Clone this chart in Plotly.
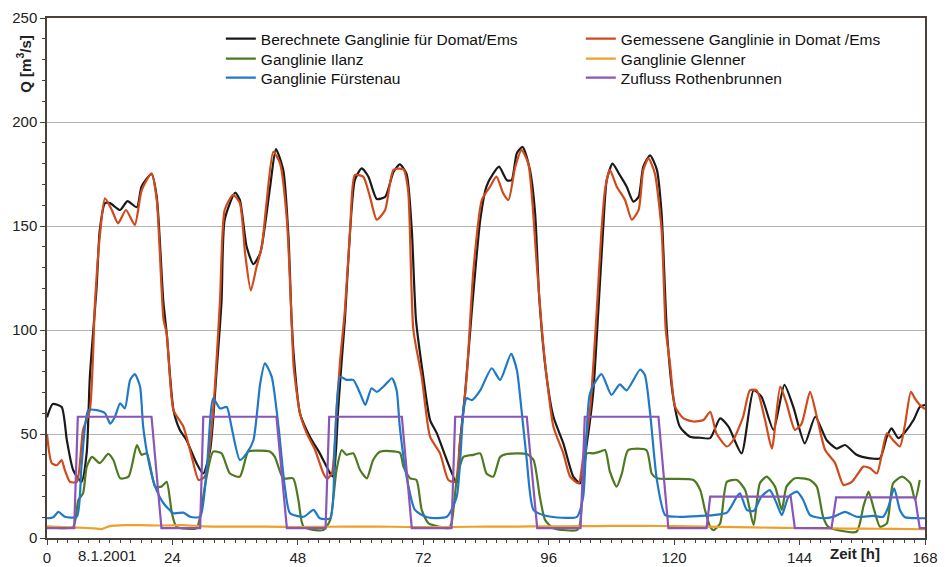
import plotly.graph_objects as go

# ---------------- data (hours, m3/s) ----------------
calc_h = [0, 1.1, 2.8, 3.8, 5, 6.6, 7.6, 8.2, 9.5, 10.1, 11.1, 12.05, 14, 15.4, 17.2, 18.1, 20, 21, 22.25, 22.9,
          24.2, 25.4, 26.7, 28.6, 29.9, 31.2, 32.5, 33.4, 34, 36, 36.9, 38.2, 39.5, 40.8, 42.7, 43.8, 45.2, 46.2,
          46.8, 47.3, 48.4, 50.3, 52.2, 54.2, 54.8, 55.7, 56.4, 57, 58, 58.9, 60.2, 61.5, 63.1, 64.7, 66.3, 67.5,
          68.8, 69.8, 70.6, 72, 73.3, 74.6, 76.5, 78.4, 79, 80, 81.3, 82.9, 84.1, 85.4, 86.5, 88, 88.9, 89.9, 91,
          92.4, 93.4, 94.2, 95.6, 96.9, 98.8, 100.7, 102, 103.3, 104.5, 105.5, 106.4, 107.1, 108.2, 109.6, 110.9,
          112.2, 113.2, 114.1, 115.4, 116.7, 117.6, 118.6, 119.8, 121.1, 123, 125, 126.9, 128.8, 130.4, 132.9,
          135.2, 136.7, 139, 141.1, 142.8, 145, 147, 149.2, 151.1, 152.7, 154.9, 157.5, 159.4, 160.7, 161.6,
          162.9, 164.2, 165.8, 167, 168]
calc_q = [58, 64.4, 63, 47, 32.7, 27, 41, 77.5, 121, 148, 161, 161, 157.7, 162, 159, 169, 175, 164, 114, 98.5,
          61.5, 52, 47, 36, 31, 42, 82, 114, 153, 166, 162.5, 140, 131.7, 137, 169, 187, 177, 145,
          105, 85, 60, 48.7, 40.7, 31, 29.5, 61.5, 85.6, 105, 148, 172, 177.7, 173.7, 163, 164, 176, 179.6,
          175, 148, 105, 77.5, 56.7, 50.3, 37.5, 26.3, 45.5, 69.6, 109.6, 153, 169, 175.3, 178.5, 172, 172, 185, 188,
          177, 156, 115, 77.5, 58.3, 45.5, 29.5, 26.3, 45.5, 69.6, 109.6, 148, 172, 180, 174.5, 169,
          161.7, 164, 178.5, 184, 177, 156, 100, 68, 53.5, 48.7, 48.2, 48, 57.5, 53.5, 40.7,
          71, 68, 52, 73.6, 63, 45.5, 58.3, 47, 43, 44.7, 40, 38.3, 38.3, 48.7, 52.7,
          48, 51, 56.7, 63, 64]

meas_h = [0, 0.9, 1.9, 2.8, 3.4, 4.4, 5.7, 6.9, 8.2, 9.2, 10.1, 11.1, 12.4, 13.6, 15.1, 16.8, 18.1, 20, 21, 22.3,
          22.9, 24.2, 26.1, 27.7, 29, 30.2, 31.8, 33.1, 34, 35.6, 36.9, 37.9, 39, 40.1, 41.1, 42, 43.3, 44.6, 45.9,
          46.8, 47.2, 48.4, 49.7, 51.3, 52.9, 53.6, 54.5, 55.4, 56.1, 57, 58, 58.9, 60.5, 61.8, 63.1, 64.7, 66.3,
          68.2, 69.1, 70.1, 71.7, 73.3, 75.2, 76.8, 78.1, 79, 80.3, 81.6, 83.2, 84.8, 86, 87.3, 88.3, 89.6, 90.8,
          92.1, 93.7, 94.7, 95.6, 96.9, 98.8, 100.1, 101.7, 102.6, 103.9, 105.2, 106.1, 106.8, 107.7, 109, 110.6,
          111.9, 113.2, 114.1, 115.1, 116.3, 117.6, 118.4, 119.2, 120.2, 121.8, 123.7, 125.6, 126.9, 128.1, 130.1,
          131.3, 133.2, 134.5, 135.8, 137.4, 138.7, 140.3, 141.5, 143.1, 144.4, 146, 147.3, 148.9, 150.8, 152.4,
          154, 155.2, 156.2, 157.5, 158.8, 160.7, 161.9, 163.2, 164.2, 165.3, 166.1, 167, 168]
meas_q = [50, 36, 35, 37.5, 32.7, 27, 27, 52, 61.5, 114, 145, 163.3, 157.7, 151.3, 157.7, 150.5, 167, 175.3, 162.5, 105,
          98.4, 61.5, 53.5, 39, 27.9, 29.5, 61.5, 114, 157.7, 165, 161, 137, 119, 130.4, 140, 161, 185.7, 180, 153,
          105, 82.3, 60, 50.3, 42.3, 31, 28.5, 31, 61.5, 85.6, 109.6, 148, 174.5, 173.7, 164, 153, 157.7, 177,
          177.2, 167, 100, 77.5, 48.7, 40.7, 27.9, 27, 45.5, 77.5, 129, 162.5, 169, 173.7, 165.7, 162.5, 178.5, 186.5,
          180, 132, 100, 77.5, 53.5, 40.7, 29.5, 26.3, 39, 61.5, 109.6, 148, 168, 177, 169, 162.5,
          153, 157.7, 177, 182.5, 175.3, 148, 100, 84, 63, 57.5, 56, 56.7, 60.7, 50.3, 44,
          47, 58.3, 71, 71, 56.7, 43, 72.8, 64.8, 52, 55, 70.3, 58.3, 42.3, 36, 25.5,
          27, 31, 34.3, 33.5, 31, 50.3, 47, 44, 55, 70.3, 67, 64, 62]

ilanz_h = [0, 5, 6, 6.9, 7.6, 8.6, 10.1, 11.7, 12.7, 14, 15.6, 17.2, 18.1, 19.1, 20.7, 21.9, 22.9, 23.9, 24.8, 28.6,
           29.3, 30.2, 31.8, 33.4, 35, 36.9, 38.5, 40.1, 42.7, 43.6, 45.2, 47.1, 48.1, 49.1, 52.9, 54.2, 55.4, 56.4,
           57.3, 58.6, 59.9, 61.2, 62.4, 63.7, 67.5, 68.2, 69.5, 70.7, 71.7, 73, 75.2, 76.8, 77.4, 78.4, 79.7, 81.6,
           82.9, 84.1, 85.4, 86.7, 88, 91.8, 93.1, 94.3, 95.3, 96.9, 101.4, 102, 103.3, 104.5, 105.8, 106.8, 107.7,
           109, 110, 111.2, 114.7, 115.7, 116.7, 123.7, 125, 125.9, 126.9, 127.5, 128.8, 130.1, 132, 133.6, 135.2,
           136.4, 137.7, 139.3, 140.6, 141.5, 143.1, 146, 147.3, 148.5, 149.5, 154.9, 156.2, 157.2, 158.1, 159.4,
           160.7, 161.9, 163.6, 165.2, 166.1, 167]
ilanz_q = [5.4, 5.4, 18.3, 21.5, 34.3, 39, 36, 40.4, 37.5, 28.7, 29.5, 44.7, 40, 40.7, 24.7, 24.7, 27, 11.9, 5.4, 4.7,
           10.2, 24.7, 41.5, 40.7, 31, 29.5, 41.5, 42, 41.5, 39, 28.7, 28.7, 18.3, 5.4, 3.8, 8.7, 32.7, 42.3,
           40, 40.7, 32.7, 28.7, 37.5, 41.5, 41, 34.3, 28.7, 27.9, 13.5, 7, 5.4, 4.7, 7, 27.9, 39, 40,
           40.7, 31, 29.5, 39, 40.4, 40.4, 37.5, 19.9, 8.7, 4.7, 3.8, 7, 40.7, 40.7, 41.5, 42.3, 32,
           24.7, 31, 42.3, 42.3, 31, 28.7, 27.9, 23, 13.5, 5.4, 3.8, 7, 27, 27.9, 23, 6.25,
           26.3, 29.5, 24.7, 13.5, 24.7, 28.7, 27.9, 24.7, 10.2, 5.4, 3, 15, 22.3, 15, 5.4,
           7, 26.3, 29.5, 26.3, 18.3, 27.9]

glenner_h = [0, 3, 6, 9, 10.5, 12, 15, 18, 22, 26, 30, 36, 42, 48, 54, 60, 66, 72, 78, 84, 90, 96, 102, 108,
             114, 120, 126, 132, 138, 144, 150, 156, 162, 168]
glenner_q = [5.6, 5.3, 5.0, 4.6, 4.3, 5.7, 6.2, 6.2, 6.0, 6.2, 5.6, 5.5, 5.5, 5.3, 5.4, 5.5, 5.4, 5.2, 5.3, 5.5,
             5.5, 5.6, 5.7, 5.8, 5.8, 5.7, 5.5, 5.2, 5.0, 4.8, 4.6, 4.5, 4.4, 4.2]

fuerst_h = [0, 1.2, 2.2, 3.4, 5.7, 6.6, 7.9, 9.5, 11.1, 12.1, 13, 14, 14.9, 15.9, 16.8, 17.8, 18.4, 19.4, 20.7, 22.3,
            24.2, 26.1, 27.4, 29.3, 30.6, 31.8, 33.1, 34.4, 35.3, 36.9, 38.2, 39.5, 40.8, 41.7, 43, 44.3, 45.5,
            46.5, 49.1, 51, 52.2, 54.2, 55.1, 56.1, 57.3, 58.6, 59.9, 60.9, 62.1, 63.1, 64.7, 66, 66.9, 67.5, 68.8,
            70.4, 72.7, 76.5, 78.4, 79.7, 80.3, 81.3, 82.9, 85.1, 86.7, 88.8, 89.9, 90.8, 91.8, 93.1, 95.6, 101.4,
            102.6, 103.9, 106.1, 108, 109.6, 110.9, 113.5, 114.4, 115.4, 116.7, 118.3, 121.1, 125, 127.5, 130.1,
            132, 132.6, 133.9, 135.2, 136.7, 138.3, 139.6, 140.6, 141.9, 143.5, 144.7, 146, 148.5, 150.5, 152.7,
            154.9, 158.1, 160, 161, 162.1, 163.2, 164.2, 166.8, 168]
fuerst_q = [9.5, 10, 12.6, 10.2, 10.2, 34.3, 61.5, 61.5, 60, 55, 58.3, 64.8, 62.3, 76, 78.8, 72.8, 53.5, 37.5, 24.7, 16.7,
            11.9, 12.2, 10.2, 10.2, 34.3, 67.2, 62.3, 63, 53.5, 37.5, 40.7, 47, 74.4, 84, 77.5, 53.5, 24.7,
            11.9, 10.2, 13.5, 9.5, 9.5, 45.5, 77.5, 76, 76, 69.6, 64, 72, 70.3, 73.6, 76.8, 71, 53.5, 29.5,
            13.5, 10, 10.2, 19.9, 61.5, 67.2, 66.3, 71, 81.6, 76, 88.5, 80.8, 61.5, 37.5, 13.5, 10.6, 10.2,
            19.9, 69.6, 78.8, 68.8, 73.9, 71, 81, 78.4, 60, 27.9, 11, 10.2, 10.6, 11, 12.2,
            19.9, 21.5, 13.5, 13, 19.9, 23, 16.7, 11, 19.9, 22.3, 18.3, 11, 9.5, 10.2, 12.6,
            10.2, 10.6, 10.2, 15, 23.9, 13.5, 10, 9.5, 9.5]

rothen_h = [0, 5.2, 5.9, 20, 21.9, 29.3, 29.9, 43.9, 45.9, 53.3, 54.0, 67.9, 69.8, 77.4, 78.1, 91.8, 93.8, 102.1,
            102.9, 117, 118.9, 126.2, 126.9, 142.3, 143.1, 150.1, 151, 166.1, 167, 168]
rothen_q = [4.7, 4.7, 58.3, 58.3, 4.7, 4.7, 58.3, 58.3, 4.7, 4.7, 58.3, 58.3, 4.7, 4.7, 58.3, 58.3, 4.7, 4.7,
            58.3, 58.3, 4.7, 4.7, 19.9, 19.9, 4.7, 4.7, 19.5, 19.5, 4.7, 4.7]

series_names = ["Berechnete Ganglinie für Domat/Ems", "Gemessene Ganglinie in Domat /Ems",
                "Ganglinie Ilanz", "Ganglinie Glenner", "Ganglinie Fürstenau", "Zufluss Rothenbrunnen"]

x_tickvals = [0, 24, 48, 72, 96, 120, 144, 168]
y_tickvals = [0, 50, 100, 150, 200, 250]
date_label = "8.1.2001"
date_label_h = 11.5
x_title = "Zeit [h]"
x_title_h = 154.6
y_title = "Q [m<sup>3</sup>/s]"
y_title_q = 228

# ---------------- figure ----------------
FONT = "Liberation Sans, Arial, sans-serif"
fig = go.Figure()

# (x, y, colour, shape, legend column, legend row)
series = [
    (calc_h, calc_q, "#1c1a18", "spline", 0, 0),
    (meas_h, meas_q, "#d04a1c", "spline", 1, 0),
    (ilanz_h, ilanz_q, "#4d7a1f", "spline", 0, 1),
    (glenner_h, glenner_q, "#f0a02a", "spline", 1, 1),
    (fuerst_h, fuerst_q, "#2078c8", "spline", 0, 2),
    (rothen_h, rothen_q, "#8a55b8", "linear", 1, 2),
]
col_x = [0.198, 0.608]
row_y = [0.9596, 0.9212, 0.8846]

legends = {}
for i, ((xs, ys, col, shape, c, r), name) in enumerate(zip(series, series_names)):
    key = "legend" if i == 0 else "legend%d" % (i + 1)
    line = dict(color=col, width=2.2, shape=shape)
    if shape == "spline":
        line["smoothing"] = 0.6
    fig.add_trace(go.Scatter(x=xs, y=ys, mode="lines", name=name, line=line, legend=key))
    legends[key] = dict(x=col_x[c], y=row_y[r], xanchor="left", yanchor="middle",
                        bgcolor="rgba(0,0,0,0)", borderwidth=0,
                        font=dict(family=FONT, size=15.5, color="#111"), itemwidth=30)

fig.update_layout(
    width=949, height=567,
    margin=dict(l=47, r=24, t=18, b=29),
    paper_bgcolor="white", plot_bgcolor="white",
    font=dict(family=FONT, size=15, color="#222"),
    xaxis=dict(range=[0, 168], tickvals=x_tickvals, showgrid=False, zeroline=False, automargin=False,
               showline=True, linecolor="#4a403c", linewidth=1.5, mirror=True,
               ticks="outside", ticklen=5, tickcolor="#4a403c",
               minor=dict(dtick=2, ticks="outside", ticklen=3, tickcolor="#4a403c", showgrid=False),
               tickfont=dict(family=FONT, size=15, color="#222")),
    yaxis=dict(range=[0, 250], tickvals=y_tickvals, showgrid=True, gridcolor="#b8b4b2", gridwidth=1,
               zeroline=False, automargin=False, showline=True, linecolor="#4a403c", linewidth=1.5, mirror=True,
               ticks="outside", ticklen=5, tickcolor="#4a403c",
               minor=dict(dtick=10, ticks="outside", ticklen=3, tickcolor="#4a403c", showgrid=False),
               tickfont=dict(family=FONT, size=15, color="#222")),
    showlegend=True,
    **legends,
)

fig.add_annotation(x=date_label_h, y=0, xref="x", yref="paper", yanchor="top", yshift=-7,
                   text=date_label, showarrow=False, font=dict(family=FONT, size=15, color="#222"))
fig.add_annotation(x=x_title_h, y=0, xref="x", yref="paper", yanchor="top", yshift=-5,
                   text="<b>" + x_title + "</b>", showarrow=False, font=dict(family=FONT, size=15, color="#222"))
fig.add_annotation(x=-0.0262, y=y_title_q, xref="paper", yref="y", xanchor="center", yanchor="middle",
                   textangle=-90, text="<b>" + y_title + "</b>", showarrow=False,
                   font=dict(family=FONT, size=15, color="#222"))

fig.write_html("out.html", config={"displayModeBar": False},
               post_script="document.body.style.margin='0';document.body.style.overflow='hidden';")
